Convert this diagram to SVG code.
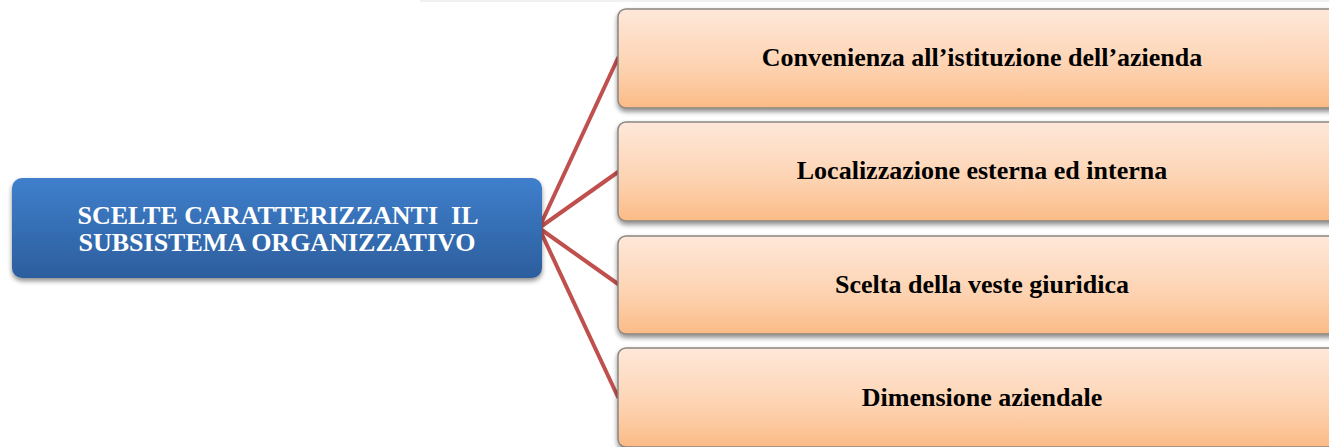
<svg xmlns="http://www.w3.org/2000/svg" width="1329" height="447" viewBox="0 0 1329 447">
<style>
.ot{font-family:"Liberation Serif",serif;font-weight:bold;font-size:26px;fill:#000;text-anchor:middle}
.bt{font-family:"Liberation Serif",serif;font-weight:bold;font-size:26px;fill:#fff;text-anchor:middle}
.ob{fill:url(#og);stroke:#8a8580;stroke-width:1.5}
.conn{stroke:#c0504d;stroke-width:4;stroke-linecap:round;fill:none}
</style>
<defs>
<linearGradient id="og" x1="0" y1="0" x2="0" y2="1">
<stop offset="0" stop-color="#fee8da"/>
<stop offset="0.6" stop-color="#fdd2b0"/>
<stop offset="1" stop-color="#fbbb86"/>
</linearGradient>
<linearGradient id="bg" x1="0" y1="0" x2="0" y2="1">
<stop offset="0" stop-color="#3f7fcc"/>
<stop offset="1" stop-color="#2c5e9d"/>
</linearGradient>
<filter id="sh" x="-5%" y="-10%" width="110%" height="130%">
<feGaussianBlur in="SourceAlpha" stdDeviation="2.5"/>
<feOffset dx="0" dy="3" result="b"/>
<feComponentTransfer><feFuncA type="linear" slope="0.45"/></feComponentTransfer>
<feMerge><feMergeNode/><feMergeNode in="SourceGraphic"/></feMerge>
</filter>
</defs>
<rect x="420" y="0" width="909" height="2" fill="#f0f0f0"/>
<g id="connectors">
<line class="conn" x1="539" y1="228" x2="618" y2="58"/>
<line class="conn" x1="539" y1="228" x2="618" y2="172"/>
<line class="conn" x1="539" y1="228" x2="618" y2="284"/>
<line class="conn" x1="539" y1="228" x2="618" y2="397"/>
</g>
<g id="center">
<rect x="12" y="178" width="530" height="100" rx="10" fill="url(#bg)" filter="url(#sh)"/>
<text class="bt" x="278" y="224" xml:space="preserve">SCELTE CARATTERIZZANTI  IL</text>
<text class="bt" x="277" y="251">SUBSISTEMA ORGANIZZATIVO</text>
</g>
<g id="n1">
<rect class="ob" x="618" y="9" width="740" height="99" rx="8" filter="url(#sh)"/>
<text class="ot" x="982" y="66">Convenienza all’istituzione dell’azienda</text>
</g>
<g id="n2">
<rect class="ob" x="618" y="122" width="740" height="99" rx="8" filter="url(#sh)"/>
<text class="ot" x="982" y="179">Localizzazione esterna ed interna</text>
</g>
<g id="n3">
<rect class="ob" x="618" y="236" width="740" height="98" rx="8" filter="url(#sh)"/>
<text class="ot" x="982" y="293">Scelta della veste giuridica</text>
</g>
<g id="n4">
<rect class="ob" x="618" y="348" width="740" height="99" rx="8" filter="url(#sh)"/>
<text class="ot" x="982" y="406">Dimensione aziendale</text>
</g>
</svg>
